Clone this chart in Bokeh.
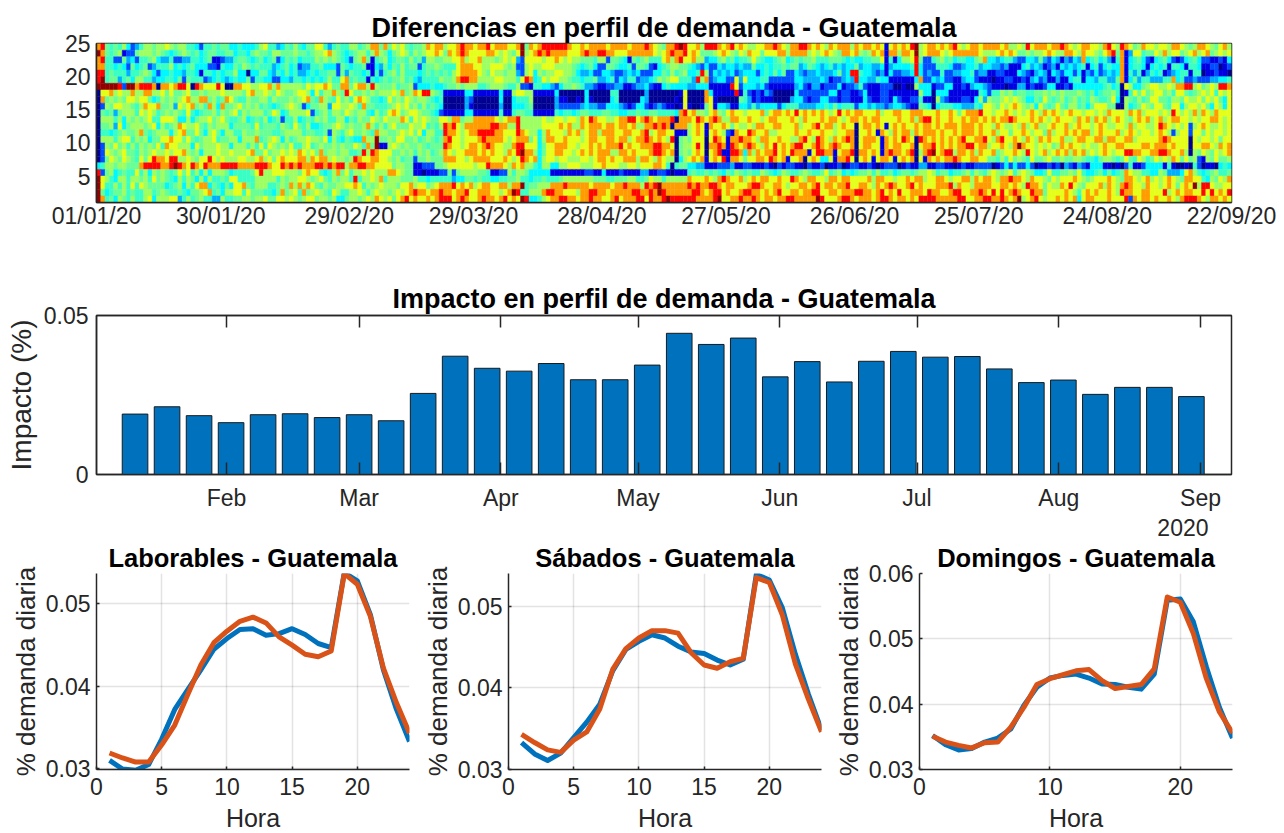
from bokeh.plotting import figure
from bokeh.layouts import column, row
from bokeh.embed import file_html
from bokeh.resources import INLINE
from bokeh.models import (ColumnDataSource, FixedTicker, LinearAxis, Range1d, Title,
                          LinearColorMapper)
from bokeh.transform import transform
import numpy as np

FONT = "Liberation Sans"
TXT = "#262626"
BLUE = "#0072BD"
ORANGE = "#D95319"

# heat-map levels, rows listed top (24) to bottom (1), four spans of days
seg_a = [
"89545463124665667656644314454553343334674423546435577424544664568858",
"a8545601156665654345654534554455344356554665556554566786543456646865",
"89441152314456322411224434500122455434534513545344465656543156850456",
"88443431534512444634345333110433546545444234534122445333154344500325",
"99454442445653133433244304434344633z33553243534223434455152544340414",
"9a455245366442334435154441234323433514433113324434343464478454404345",
"aaaaa91aa89998z8878997z9877797zz88776677868666665767787558857886965",
"z7786766866886675755675565666766665786676576556776374668659755656566",
"z8565657767753465656786688564587544655664655565678548654756478764434",
"z1657766546877855627678564863855675656454345676513556627766764855444",
"z5452566647676456565474345564656746566645763466667145646657656643645",
"z6664636565674477763363566756754456345463451446345465644663546557657",
"z5562735666567364568766754656663555547455546547546334556765655686464",
"z4434565568545666367855753675366446556555445666645544516546755654866",
"z6664677465635577877575456674556636668456763645667665736435433866a5",
"z1657564646565748776663756667663666464747656574467456556565576485a0",
"z1765675546567667677865636667667666785575667676876758566566445969877",
"z1576576547579887996676577976766677667867578777886878867665698778877",
"346656655589999889a987987988899998888999877989898889989899688998877",
"9156345447463656545757463636665344445796677766657877434685746676766",
"a7643664665647565436465363644547744446666646566776567546566494667684",
"a7446464747655553456364788354353778546664456586868754655667787465676",
"a5345564544664565445435567845366774755544358567485676547644667646766",
"a8453654644673666772464564422644556656675577676567756656335665676876",
]
seg_b = [
"5767545568788677898878897888778a587899999987787888878888788898765889a9",
"3567646567787587898777788767657a67898988887778988998877788888876789889",
"3455464526655667786778666567672177776778767665554661554305456444786897",
"3546455145565444788877667776561167667776666543453115543341554103456655",
"5646444345454546788887657665662167365667766532231133211232311133546456",
"455645324444655689988666677666479834767766544344522341324412234656774",
"5645561333433455656664456665446110443321355654221001122001223100343",
"6768568799654000003300000030067766000003zzzzzz3zzzzz44zzzzzz2zzzzzzz07",
"7565765665434zzzzz21zzzzzz3zz34446zzzzz200zz0z30zzzz34zzzzz32zzzzzz0z7",
"5676756464543zzzzz20zzzzzz2zz33345zzzzz2111112322113332101331012100z07",
"7875677655431000003300000040045544000004344345544455443344544554444389",
"6668747676557768856688888767889666667667767768798776678899789878889z88",
"675557667454698976888888998866966666777787866878887887887866889898z88",
"556767573664498876788999988777987663687776878678868887788778967887 70",
"6577556456545897767778988887678885736887787776788778878867889878769z56",
"6765655654555987767887898776689977735778887767787878889787788899887z56",
"7556564656456876778887878776879a88635778877678787888668878777899878z56",
"6564551556555888776788887778767987836776776667767887877888688768766z36",
"756655001115567777776779888768786643663366777666778777667767778874z45",
"88765500z000115156666554001164665333330000000011003000100002200110z0",
"666555644344444233554544334455644344544456666666555445556644576646",
"66577867756788897878678877886 88a4556668889888887888878898886989a8",
"56767898878898878897788877678a9446668998877768899887888889988 98a98",
"75789787787899978987789887897 87a93346788998878898877897888997988 9a9",
]
seg_c = [
"7786999878 9787667788 9876889987 8768788868 7887870787 879a678878 7897678878",
"7875556787 6576877577 7886888867 6787658878 6568780886 887a678887 6788888876",
"7866233564 5344575433 4563454556 4445554343 3445570403 6679511456 4534433568",
"4321311323 3232253343 4454552354 3234232335 2332230233 3349311144 4311233423",
"3349613232 3123331343 5351132122 3222352399 4332120311 2239312114 1122334122",
"4296812331 1727333441 1111133222 2320112329 3322433000 0003811323 1100233100",
"2233300000 9713332310 0000023102 2011130112 41000111zz 0zz6333011 3300102332",
"zzzz830000 0904101021 zzzzz31111 1113301100 1300011000 0000633z33 3000000043",
"zzzz870zzz zz54201000 zzzz233101 1331101100 0310011031 0011400z62 1000110362",
"0zz0570332 0033242333 3134442222 3343534441 3323221233 2100543z34 4433222437",
"7866578657 8776777857 8878797878 7876797878 8777867788 7788877787 7875788897",
"8798789866 8877877678 8777876877 7878876788 7878877778 7786899787 7877878878",
"6787087787 5766768877 8877786778 978867877z 7887870787 8778788787 8887888787",
"6787078761 0877987786 6777787787 787767788z 7787087687 8868788878 7787888787",
"5777z79870 8898876887 7877668976 987687898z 7888708787 987z987878 7878977889",
"6797z88980 9878987687 9787899778 987898778z 7887708788 778z788978 7878899788",
"5787z78900 9983868788 9787988807 998807889z 8878708988 789z689a78 9968878687",
"7878078790 8875778879 8780778z78 733708897z 7870788707 878z708787 8898778877",
"3322000111 2001100010 z101100z10 01z001z011 0010z0111z 0100220011 00z0100111",
"4544545435 4654544654 3465445654 4574563434 5564644534 5545667645 5344564654",
"8777876898 7786787887 7877987688 7768878877 7786887767 7878867788 7677886878",
"9898899878 8777899877 8876778878 9788788977 8876878987 7897877788 8968776888",
"8998789978 7789988787 8977887889 9778878889 9887897879 7788879887 7899778898",
"9988889a77 8898898788 7889988888 a977789987 8887899878 8787999988 8889977889",
]
seg_d = [
"8887866769 7888788987 6788776897 6987568776 7768876568 8765786787",
"6678787556 5667876688 7687765789 5802774557 6867756786 7856767786",
"3323442113 3252132021 3283453420 4803453103 4531013453 1100103334",
"3221200034 2320120323 2340341343 3803443034 3404430443 0011z01233",
"0011000321 0232032133 1302131232 3804240243 4012344044 z00100z013",
"0z00110010 2312002003 4403324422 5803524422 2448341121 1122334455",
"1000z00220 1001330010 3333333453 4z76335677 6676889967 5676998778",
"1446564554 4556565655 5654534556 4z04757567 7564775456 7674767637",
"6556767653 3547545645 6454654457 3z65464577 5546657667 5767537676",
"7657678765 6375457546 6453577755 zz63457657 7547736776 7537637677",
"7677876767 8768787678 7767767687 7768786777 6769767686 8768777677",
"7878898777 8787678777 6878687867 8765787867 8678877676 7788767787",
"7687667686 7866787786 7877678766 7768677667 9876767167 8766767786",
"7867757787 6775867787 8788678777 8678767767 8761677177 5767767877",
"7689778768 7687877866 7887788688 7788677777 8987777z76 7767577766",
"6778768a87 7676756878 7767667877 8877778878 8878777z77 8876878876",
"7856778769 7678678786 8786767876 7799887788 9987786z65 7657678776",
"5546475654 7556755655 6654435665 4575476457 6768757561 0657556675",
"1z01313113 1z00101z21 021033300z 0z14001333 3040zz0z41 z00z343232",
"6765674676 5334744556 5743345353 4587664433 6522237864 3456445645",
"8768898876 8776576777 8765677787 6588767867 6787658877 4365768776",
"8778878769 8875766879 7657778687 6898776877 67875787a6 9976677887",
"7979789877 9885777787 6478787787 6988778877 7967878877 9797879787",
"9889878a67 8976778787 8378877787 7791878878 7787689998 7688787687",
]
level_values = {"z": 0.02, "0": 0.10, "1": 0.20, "2": 0.30, "3": 0.37, "4": 0.43, "5": 0.48,
                "6": 0.53, "7": 0.60, "8": 0.72, "9": 0.87, "a": 0.98}
date_ticks = [1, 30, 60, 89, 119, 148, 178, 207, 237, 266]
date_labels = ["01/01/20", "30/01/20", "29/02/20", "29/03/20", "28/04/20",
               "27/05/20", "26/06/20", "25/07/20", "24/08/20", "22/09/20"]

# weekly impact (%)
impacto = [0.0190, 0.0213, 0.0185, 0.0163, 0.0188, 0.0191, 0.0179, 0.0188, 0.0169, 0.0255, 0.0372,
           0.0334, 0.0325, 0.0349, 0.0298, 0.0298, 0.0344, 0.0444, 0.0409, 0.0429, 0.0307, 0.0355,
           0.0291, 0.0356, 0.0387, 0.0369, 0.0371, 0.0332, 0.0289, 0.0297, 0.0252, 0.0274, 0.0274,
           0.0245]
week_day = [11 + 7 * i for i in range(len(impacto))]
month_days = [31, 60, 91, 121, 152, 182, 213, 244]
month_labels = ["Feb", "Mar", "Apr", "May", "Jun", "Jul", "Aug", "Sep"]

hora = list(range(1, 25))
lab_azul = [.0310, .02995, .0298, .0305, .0336, .0372, .0396, .0420, .0445, .0458, .0469, .0470,
            .0462, .0464, .0470, .0463, .0452, .0447, .0538, .0528, .0487, .0420, .0372, .0333]
lab_naranja = [.0319, .0313, .0308, .0308, .0329, .0353, .0390, .0426, .0453, .0467, .0479, .0484,
               .0477, .0460, .0450, .0439, .0436, .0443, .0537, .0524, .0485, .0422, .0380, .0343]
sab_azul = [.0333, .0319, .0311, .0320, .0339, .0358, .0380, .0421, .0447, .0457, .0465, .0461,
            .0451, .0444, .0442, .0434, .0428, .0435, .0539, .0532, .0498, .0441, .0392, .0348]
sab_naranja = [.0343, .0333, .0324, .0321, .0336, .0346, .0374, .0423, .0448, .0461, .0470, .0470,
               .0467, .0443, .0428, .0424, .0432, .0436, .0535, .0529, .0489, .0429, .0386, .0346]
dom_azul = [.0352, .0338, .0330, .0332, .0342, .0348, .0362, .0398, .0426, .0440, .0444, .0446,
            .0440, .0431, .0430, .0426, .0423, .0446, .0559, .0561, .0526, .0457, .0395, .0348]
dom_naranja = [.0351, .0342, .0337, .0333, .0341, .0342, .0365, .0395, .0430, .0439, .0445, .0451,
               .0453, .0436, .0424, .0427, .0430, .0454, .0564, .0556, .0508, .0439, .0388, .0356]


def jet(n=256):
    t = np.linspace(0, 1, n)
    r = np.clip(np.minimum(4 * t - 1.5, -4 * t + 4.5), 0, 1)
    g = np.clip(np.minimum(4 * t - 0.5, -4 * t + 3.5), 0, 1)
    b = np.clip(np.minimum(4 * t + 0.5, -4 * t + 2.5), 0, 1)
    return ["#%02x%02x%02x" % (int(a * 255), int(c * 255), int(d * 255)) for a, c, d in zip(r, g, b)]


def style_axis(ax, size="23px", label_size="26px"):
    ax.axis_line_color = TXT
    ax.axis_line_width = 1.5
    ax.major_tick_line_color = TXT
    ax.major_tick_line_width = 1.5
    ax.minor_tick_line_color = None
    ax.major_tick_out = 0
    ax.major_label_text_font = FONT
    ax.major_label_text_font_size = size
    ax.major_label_text_color = TXT
    ax.axis_label_text_font = FONT
    ax.axis_label_text_font_size = label_size
    ax.axis_label_text_color = TXT
    ax.axis_label_text_font_style = "normal"


def style_title(p, size, standoff):
    p.title.align = "center"
    p.title.text_font = FONT
    p.title.text_font_size = size
    p.title.text_font_style = "bold"
    p.title.text_color = "#000000"
    p.title.standoff = standoff


# --- top heat map
def fit(s, n):
    s = s.replace(" ", "")
    return (s + s[-1] * n)[:n]


spans = [(seg_a, 68), (seg_b, 70), (seg_c, 70), (seg_d, 57)]
rows_text = ["".join(fit(seg[i], n) for seg, n in spans) for i in range(24)]
left, right, top, bottom, vals = [], [], [], [], []
for i, txt in enumerate(rows_text):
    r = 24 - i
    for j, ch in enumerate(txt):
        left.append(1 + j)
        right.append(2 + j)
        bottom.append(r)
        top.append(r + 1)
        vals.append(level_values[ch])

p1 = figure(frame_width=1135, frame_height=159, x_range=Range1d(1, 266), y_range=Range1d(1, 25),
            toolbar_location=None, output_backend="svg", title="Diferencias en perfil de demanda - Guatemala",
            min_border_left=96, min_border_right=46, min_border_top=43, min_border_bottom=69)
mapper = LinearColorMapper(palette=jet(), low=0, high=1)
p1.quad(left="l", right="r", top="t", bottom="b",
        source=ColumnDataSource(dict(l=left, r=right, t=top, b=bottom, v=vals)),
        fill_color=transform("v", mapper), line_color=transform("v", mapper), line_width=0.4)
p1.grid.visible = False
p1.xaxis.ticker = FixedTicker(ticks=date_ticks)
p1.xaxis.major_label_overrides = dict(zip(date_ticks, date_labels))
p1.yaxis.ticker = FixedTicker(ticks=[5, 10, 15, 20, 25])
style_axis(p1.xaxis[0])
style_axis(p1.yaxis[0])
p1.xaxis.major_tick_in = 0
p1.yaxis.major_tick_in = 0
p1.xaxis.major_label_standoff = 0
p1.yaxis.major_label_standoff = 6
p1.outline_line_color = TXT
p1.outline_line_width = 1.5
style_title(p1, "27px", 2)

# --- weekly bars
p2 = figure(frame_width=1135, frame_height=159, x_range=Range1d(2.57, 250.77), y_range=Range1d(0, 0.05),
            toolbar_location=None, output_backend="svg", title="Impacto en perfil de demanda - Guatemala",
            y_axis_label="Impacto (%)",
            min_border_left=96, min_border_right=36, min_border_top=44, min_border_bottom=66)
p2.vbar(x=week_day, top=impacto, width=5.6, fill_color=BLUE, line_color="#1a1a1a", line_width=1)
p2.grid.visible = False
p2.xaxis.ticker = FixedTicker(ticks=month_days)
p2.xaxis.major_label_overrides = dict(zip(month_days, month_labels))
p2.yaxis.ticker = FixedTicker(ticks=[0, 0.05])
style_axis(p2.xaxis[0])
style_axis(p2.yaxis[0], label_size="28px")
p2.xaxis.major_tick_in = 12
p2.yaxis.major_tick_in = 0
p2.xaxis.major_label_standoff = 10
p2.yaxis.major_label_standoff = 8
p2.yaxis.axis_label_standoff = 4
top_axis = LinearAxis(ticker=FixedTicker(ticks=month_days), major_label_text_font_size="0px",
                      major_label_text_color=None, major_tick_in=12, major_tick_out=0,
                      major_tick_line_color=TXT, major_tick_line_width=1.5, minor_tick_line_color=None,
                      axis_line_color=TXT, axis_line_width=1.5, major_label_standoff=0)
p2.add_layout(top_axis, "above")
p2.outline_line_color = TXT
p2.outline_line_width = 1.5
p2.add_layout(Title(text="2020", align="right", offset=23, standoff=6, text_font=FONT, text_font_size="23px",
                    text_font_style="normal", text_color=TXT), "below")
style_title(p2, "27px", 4)


# --- hourly profiles
def small(title, azul, naranja, ylim, yticks, xticks, left_border, right_border):
    p = figure(frame_width=313, frame_height=196, x_range=Range1d(0, 24), y_range=Range1d(*ylim),
               toolbar_location=None, output_backend="svg", title=title,
               x_axis_label="Hora", y_axis_label="% demanda diaria",
               min_border_left=left_border, min_border_right=right_border, min_border_top=33, min_border_bottom=0)
    p.line(hora, azul, color=BLUE, line_width=5, line_join="round")
    p.line(hora, naranja, color=ORANGE, line_width=5, line_join="round")
    p.xaxis.ticker = FixedTicker(ticks=xticks)
    p.yaxis.ticker = FixedTicker(ticks=yticks)
    style_axis(p.xaxis[0], label_size="25px")
    style_axis(p.yaxis[0])
    p.xaxis.major_tick_in = 3
    p.yaxis.major_tick_in = 3
    p.xaxis.major_label_standoff = 8
    p.yaxis.major_label_standoff = 6
    p.xaxis.axis_label_standoff = 6
    p.yaxis.axis_label_standoff = 2
    p.grid.grid_line_color = TXT
    p.grid.grid_line_alpha = 0.13
    p.grid.grid_line_width = 1.5
    p.outline_line_color = None
    style_title(p, "25.5px", 3)
    return p


p3 = small("Laborables - Guatemala", lab_azul, lab_naranja, (0.0299, 0.0537), [0.03, 0.04, 0.05],
           [0, 5, 10, 15, 20], 96, 10)
p4 = small("Sábados - Guatemala", sab_azul, sab_naranja, (0.03, 0.054), [0.03, 0.04, 0.05],
           [0, 5, 10, 15, 20], 88, 9)
p5 = small("Domingos - Guatemala", dom_azul, dom_naranja, (0.03, 0.06), [0.03, 0.04, 0.05, 0.06],
           [0, 10, 20], 88, 37)

page = column(p1, p2, row(p3, p4, p5, spacing=0), spacing=0)
open("out.html", "w").write(file_html(page, INLINE))
